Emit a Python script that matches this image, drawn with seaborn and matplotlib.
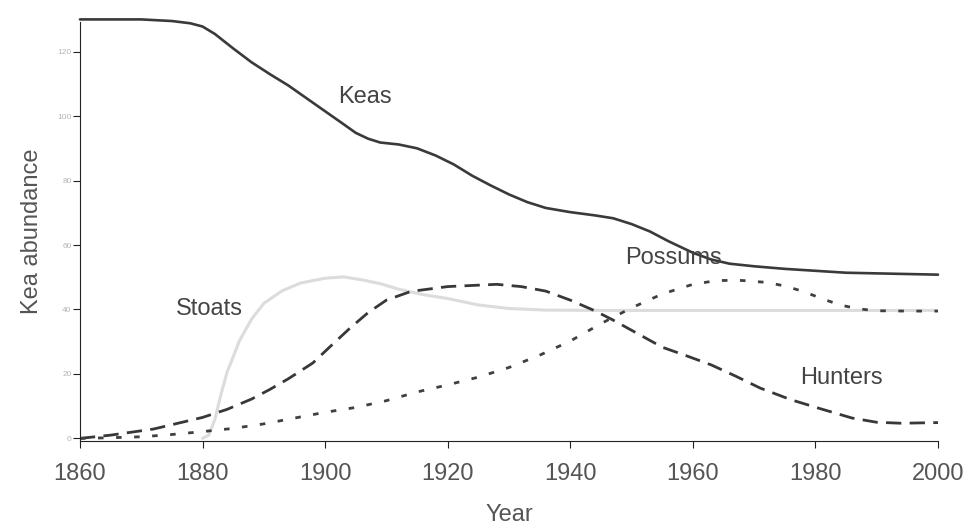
import numpy as np
import matplotlib
matplotlib.use("Agg")
import matplotlib.pyplot as plt
import seaborn as sns

# ---- data ----
keas_years = [1860, 1870, 1875, 1878, 1880, 1882, 1885, 1888, 1891, 1894, 1897, 1900,
              1903, 1905, 1907, 1909, 1912, 1915, 1918, 1921, 1924, 1927, 1930, 1933,
              1936, 1940, 1944, 1947, 1950, 1953, 1956, 1960, 1963, 1966, 1970, 1975,
              1980, 1985, 1990, 1995, 2000]
keas = [130, 130, 129.5, 128.8, 127.8, 125.5, 121, 116.7, 113, 109.5, 105.5, 101.5,
        97.5, 94.8, 93, 91.8, 91.2, 90, 87.8, 85, 81.5, 78.5, 75.7, 73.3,
        71.5, 70.2, 69.2, 68.3, 66.5, 64.2, 61.2, 57.6, 55.5, 54.2, 53.4, 52.6,
        52, 51.4, 51.2, 51, 50.8]

stoat_years = [1880, 1881, 1882, 1883, 1884, 1885, 1886, 1888, 1890, 1893, 1896, 1900,
               1903, 1906, 1909, 1912, 1916, 1920, 1925, 1930, 1936, 1945, 2000]
stoats = [0, 1, 5.8, 13.6, 20.5, 25.3, 30.2, 37, 41.9, 45.8, 48.2, 49.7,
          50.1, 49.2, 48, 46.3, 44.6, 43.4, 41.4, 40.3, 39.8, 39.7, 39.7]

hunter_years = [1860, 1865, 1872, 1880, 1884, 1888, 1891, 1894, 1898, 1901, 1904, 1907,
                1910, 1914, 1920, 1928, 1932, 1936, 1940, 1944, 1947, 1951, 1955, 1959,
                1963, 1967, 1971, 1976, 1981, 1986, 1990, 1994, 2000]
hunters = [0, 1, 2.9, 6.5, 9, 12.2, 15.2, 18.5, 23.4, 28.8, 34.1, 39,
           42.9, 45.6, 47.1, 47.8, 47.1, 45.7, 42.9, 39.6, 36.7, 32.5, 28.3, 25.6,
           22.8, 19.3, 15.6, 12, 9.1, 6.3, 5, 4.7, 4.9]

possum_years = [1860, 1865, 1870, 1875, 1880, 1885, 1890, 1895, 1900, 1905, 1910, 1915,
                1920, 1925, 1930, 1935, 1940, 1945, 1950, 1955, 1960, 1964, 1968, 1972,
                1975, 1978, 1981, 1984, 1987, 1990, 1995, 2000]
possums = [0, 0.2, 0.5, 1.2, 2.1, 3.1, 4.5, 6.3, 8.1, 9.6, 11.7, 14.4,
           16.6, 19, 22, 25.8, 30.2, 35.6, 40.5, 44.8, 47.8, 49, 49, 48.4,
           47.3, 45.6, 43.4, 41.4, 40.2, 39.6, 39.5, 39.5]

x_ticks = [1860, 1880, 1900, 1920, 1940, 1960, 1980, 2000]
y_ticks = [0, 20, 40, 60, 80, 100, 120]

labels = ["Keas", "Stoats", "Hunters", "Possums"]
label_pos = [(1906.5, 106), (1881.2, 40.1), (1984.3, 18.7), (1956.8, 55.9)]

# ---- plot ----
sns.set_style("white")
plt.rcParams['font.family'] = ['Liberation Sans', 'DejaVu Sans']

fig = plt.figure(figsize=(9.68, 5.30), dpi=100)
ax = fig.add_axes([0.0826, 0.168, 0.8864, 0.7905])

sns.lineplot(x=stoat_years, y=stoats, ax=ax, color='#dcdcdc', lw=2.2)
sns.lineplot(x=hunter_years, y=hunters, ax=ax, color='#383838', lw=2.0,
             linestyle=(0, (5.5, 3)))
sns.lineplot(x=possum_years, y=possums, ax=ax, color='#404040', lw=2.0,
             linestyle=(0, (2, 4.5)))
sns.lineplot(x=keas_years, y=keas, ax=ax, color='#3a3a3a', lw=1.9, clip_on=False)

for name, (xx, yy) in zip(labels, label_pos):
    ax.text(xx, yy, name, fontsize=17, color='#444444', ha='center', va='center')

ax.set_xlim(1860, 2000)
ax.set_ylim(-0.8, 129.2)
ax.set_xticks(x_ticks)
ax.set_yticks(y_ticks)
ax.tick_params(axis='x', direction='out', length=5, width=0.8, color='#222222',
               labelsize=17, labelcolor='#555555', pad=11, bottom=True)
ax.tick_params(axis='y', direction='out', length=5, width=0.8, color='#222222',
               labelsize=6, labelcolor='#b5b5b5', pad=1, left=True)

sns.despine(ax=ax)
for s in ['left', 'bottom']:
    ax.spines[s].set_color('#222222')
    ax.spines[s].set_linewidth(0.8)

ax.set_xlabel('Year', fontsize=17, color='#555555', va='center')
ax.xaxis.set_label_coords(0.5, -0.177)
ax.set_ylabel('Kea abundance', fontsize=17, color='#555555', va='center')
ax.yaxis.set_label_coords(-0.056, 0.5)

fig.savefig('out.png', dpi=100, facecolor='white')
